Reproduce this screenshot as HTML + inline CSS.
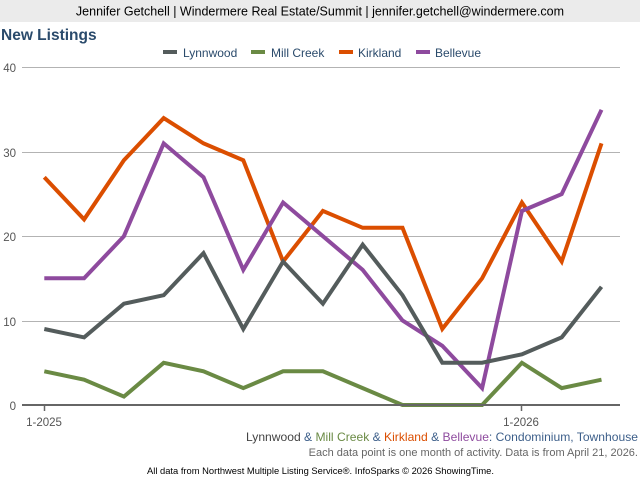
<!DOCTYPE html>
<html><head><meta charset="utf-8"><style>
body{margin:0;width:640px;height:480px;background:#fff;overflow:hidden;font-family:"Liberation Sans",sans-serif}
</style></head><body>
<svg width="640" height="480" xmlns="http://www.w3.org/2000/svg" font-family="Liberation Sans, sans-serif">
<rect x="0" y="0" width="640" height="22" fill="#ebebeb"/>
<text x="320" y="15.5" text-anchor="middle" font-size="12.5" fill="#000">Jennifer Getchell | Windermere Real Estate/Summit | jennifer.getchell@windermere.com</text>
<text x="1" y="40" font-size="15.5" font-weight="bold" fill="#2a4a6b">New Listings</text>
<g font-size="12" fill="#2a4a6b">
<rect x="163" y="50" width="14" height="4" fill="#545c5c"/><text x="183" y="57">Lynnwood</text>
<rect x="251" y="50" width="14" height="4" fill="#6a8a44"/><text x="271" y="57">Mill Creek</text>
<rect x="339" y="50" width="14" height="4" fill="#db4e00"/><text x="358" y="57">Kirkland</text>
<rect x="416" y="50" width="14" height="4" fill="#8e4a9e"/><text x="435" y="57">Bellevue</text>
</g>
<g stroke="#b3b3b3" stroke-width="1">
<line x1="22" y1="67.5" x2="620" y2="67.5"/><line x1="22" y1="152.5" x2="620" y2="152.5"/>
<line x1="22" y1="236.5" x2="620" y2="236.5"/><line x1="22" y1="321.5" x2="620" y2="321.5"/>
</g>
<g font-size="11.5" fill="#555" text-anchor="end">
<text x="16" y="72">40</text><text x="16" y="157">30</text><text x="16" y="241">20</text><text x="16" y="326">10</text><text x="16" y="410">0</text>
</g>
<g fill="none" stroke-width="4" stroke-linejoin="miter">
<polyline stroke="#db4e00" points="44.3,177.2 84.1,219.4 123.9,160.3 163.7,118.1 203.5,143.4 243.3,160.3 283.1,261.5 322.9,210.9 362.7,227.8 402.5,227.8 442.3,328.9 482.1,278.3 521.9,202.5 561.7,261.5 601.5,143.4"/>
<polyline stroke="#8e4a9e" points="44.3,278.3 84.1,278.3 123.9,236.2 163.7,143.4 203.5,177.2 243.3,269.9 283.1,202.5 322.9,236.2 362.7,269.9 402.5,320.5 442.3,345.8 482.1,388.1 521.9,211.0 561.7,194.1 601.5,109.8"/>
<polyline stroke="#545c5c" points="44.3,329.0 84.1,337.4 123.9,303.7 163.7,295.2 203.5,253.1 243.3,329.0 283.1,261.5 322.9,303.7 362.7,244.6 402.5,295.2 442.3,362.7 482.1,362.7 521.9,354.3 561.7,337.4 601.5,286.8"/>
<polyline stroke="#6a8a44" points="44.3,371.3 84.1,379.7 123.9,396.6 163.7,362.8 203.5,371.3 243.3,388.1 283.1,371.3 322.9,371.3 362.7,388.1 402.5,405 442.3,405 482.1,405 521.9,362.8 561.7,388.1 601.5,379.7"/>
</g>
<line x1="22" y1="405" x2="620" y2="405" stroke="#666" stroke-width="2"/>
<line x1="44.5" y1="405" x2="44.5" y2="411" stroke="#666" stroke-width="1.5"/>
<line x1="521.5" y1="405" x2="521.5" y2="411" stroke="#666" stroke-width="1.5"/>
<g font-size="11.5" fill="#555" text-anchor="middle"><text x="44" y="426">1-2025</text><text x="521" y="426">1-2026</text></g>
<text x="246" y="441" font-size="12" fill="#3d5f8a" textLength="392" lengthAdjust="spacingAndGlyphs"><tspan fill="#444">Lynnwood</tspan> &amp; <tspan fill="#6a8a44">Mill Creek</tspan> &amp; <tspan fill="#db4e00">Kirkland</tspan> &amp; <tspan fill="#8e4a9e">Bellevue</tspan>: Condominium, Townhouse</text>
<text x="638" y="456" text-anchor="end" font-size="11" fill="#666">Each data point is one month of activity. Data is from April 21, 2026.</text>
<text x="147" y="474" font-size="9" fill="#000" textLength="347" lengthAdjust="spacingAndGlyphs">All data from Northwest Multiple Listing Service®. InfoSparks © 2026 ShowingTime.</text>
</svg>
</body></html>
